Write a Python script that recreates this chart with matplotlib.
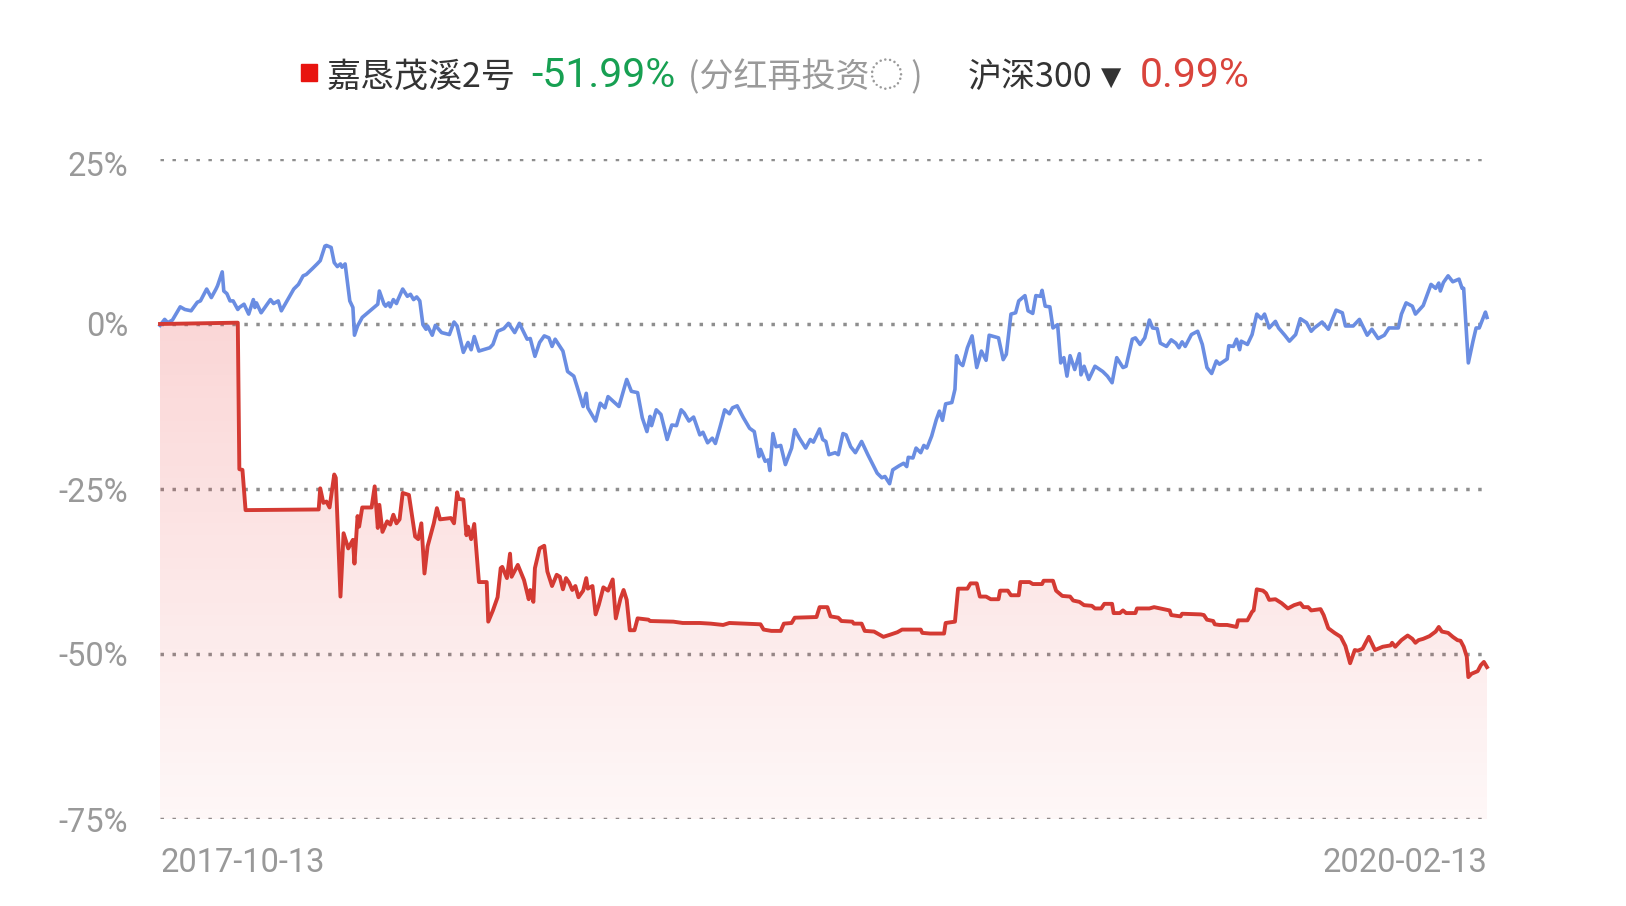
import numpy as np
import pandas as pd
import matplotlib
matplotlib.use('Agg')
import matplotlib.pyplot as plt
from matplotlib.patches import Rectangle
from matplotlib.transforms import ScaledTranslation

# Labels and texts
start_date = '2017-10-13'
end_date = '2020-02-13'
y_ticks = [25, 0, -25, -50, -75]
fund_name = '嘉恳茂溪2号'
fund_return = '-51.99%'
note = '(分红再投资◌ )'
index_name = '沪深300'
index_return = '0.99%'

# 沪深300 cumulative return [%] (day offset from start)
hs300_days = [0, 3, 5, 8, 13, 16, 20, 24, 26, 30, 33, 36, 37, 40, 41, 43, 45, 47, 50, 51,
              54, 57, 60, 61, 62, 65, 68, 71, 73, 76, 78, 86, 89, 92, 94, 98, 101, 103, 106, 107,
              110, 112, 114, 116, 117, 119, 122, 124, 125, 127, 130, 135, 140, 141, 144, 145, 147, 148, 150, 152,
              153, 156, 159, 161, 163, 165, 167, 169, 171, 172, 175, 177, 181, 186, 189, 191, 195, 198, 200, 202,
              205, 212, 214, 217, 221, 224, 228, 231, 236, 238, 241, 244, 247, 250, 252, 254, 259, 262, 266, 268,
              272, 274, 275, 280, 283, 286, 288, 295, 300, 303, 307, 310, 313, 315, 316, 319, 322, 326, 329, 332,
              335, 337, 340, 343, 347, 349, 352, 355, 357, 360, 363, 366, 368, 371, 375, 379, 382, 385, 386, 389,
              391, 392, 394, 396, 399, 402, 406, 408, 411, 415, 418, 420, 424, 426, 428, 430, 434, 436, 439, 441,
              444, 447, 451, 455, 461, 464, 466, 469, 471, 475, 478, 480, 481, 484, 486, 489, 491, 493, 496, 499,
              501, 503, 505, 509, 511, 512, 514, 516, 519, 522, 525, 528, 531, 533, 539, 542, 544, 547, 550, 552,
              556, 558, 561, 563, 566, 567, 569, 572, 574, 577, 579, 581, 583, 585, 588, 591, 592, 594, 597, 601,
              606, 609, 612, 615, 619, 621, 625, 627, 630, 633, 636, 638, 641, 643, 647, 650, 653, 655, 657, 659,
              663, 667, 670, 673, 676, 679, 681, 686, 687, 690, 692, 694, 695, 699, 702, 705, 708, 710, 713, 717,
              719, 723, 726, 730, 733, 737, 740, 742, 747, 751, 756, 760, 762, 767, 771, 776, 779, 783, 787, 790,
              796, 798, 801, 805, 807, 812, 817, 820, 822, 823, 825, 828, 831, 835, 837, 838, 841, 844, 846, 848,
              852, 853]
hs300_pct = [-0.2, 0.7, 0.2, 0.6, 2.6, 2.2, 2.0, 3.3, 3.5, 5.3, 4.0, 5.3, 5.8, 7.9, 5.0, 4.6, 3.5, 3.5, 2.2, 2.5,
             3.0, 1.5, 3.7, 2.5, 3.2, 1.7, 2.7, 3.7, 3.1, 3.5, 2.0, 5.3, 6.0, 7.3, 7.5, 8.4, 9.1, 9.6, 11.8, 11.9,
             11.6, 9.3, 8.7, 9.1, 8.6, 9.1, 3.5, 2.5, -1.7, -0.3, 1.0, 2.0, 3.0, 5.0, 3.0, 2.7, 3.2, 2.6, 3.7, 3.1,
             3.7, 5.3, 4.2, 4.5, 3.7, 4.1, 3.5, -0.1, -0.8, -0.3, -1.7, -0.2, -1.3, -1.6, 0.3, -0.3, -4.3, -2.8, -3.9, -1.9,
             -4.1, -3.6, -3.1, -1.1, -0.7, 0.1, -1.3, 0.1, -2.3, -2.2, -4.9, -2.8, -1.8, -2.1, -3.4, -2.3, -4.1, -7.2, -7.9, -9.4,
             -12.5, -10.5, -12.7, -14.7, -12.0, -12.7, -11.0, -12.5, -8.4, -10.2, -10.4, -14.2, -16.3, -14.0, -15.4, -13.0, -13.7, -17.5, -15.3, -15.4,
             -13.0, -13.5, -14.7, -14.1, -16.8, -16.4, -18.0, -17.3, -18.1, -15.6, -13.0, -13.6, -12.7, -12.4, -14.2, -15.8, -16.3, -20.1, -19.0, -20.8,
             -20.6, -22.2, -16.6, -18.6, -18.4, -21.3, -18.8, -16.0, -17.3, -18.8, -17.5, -17.9, -15.9, -17.5, -17.8, -19.8, -19.5, -19.8, -16.6, -16.8,
             -18.6, -19.5, -17.8, -19.8, -22.6, -23.3, -23.1, -24.2, -22.1, -21.5, -21.1, -21.6, -20.2, -20.3, -18.8, -19.5, -18.4, -18.8, -17.0, -14.5,
             -13.2, -14.6, -12.1, -11.9, -9.9, -4.8, -5.9, -6.3, -3.6, -1.8, -6.6, -4.1, -5.5, -1.7, -2.1, -5.4, -4.6, 1.5, 1.7, 3.5,
             4.3, 2.0, 1.6, 4.3, 4.2, 5.1, 2.7, 2.6, -0.6, -0.1, -5.9, -5.1, -7.9, -4.8, -6.9, -4.5, -7.7, -6.4, -8.4, -6.4,
             -7.2, -7.9, -8.9, -5.1, -6.6, -6.4, -2.3, -2.1, -3.1, -2.1, 0.6, -0.6, -0.7, -2.9, -3.4, -2.4, -2.9, -3.6, -2.7, -3.4,
             -1.6, -1.1, -3.1, -6.6, -7.5, -5.6, -6.1, -5.3, -3.3, -3.4, -2.3, -3.9, -2.6, -3.1, -1.6, 1.5, 0.8, 1.5, -0.6, 0.4,
             -0.6, -1.7, -2.6, -1.6, 0.8, 0.2, -1.1, -0.6, 0.3, -0.8, 2.1, 1.7, -0.3, -0.3, 0.7, -1.7, -0.8, -2.2, -1.7, -0.6,
             -0.6, 1.5, 3.2, 2.7, 1.5, 2.8, 6.0, 5.4, 6.2, 5.0, 6.3, 7.3, 6.4, 6.8, 5.4, 5.4, -5.9, -2.6, -0.6, -0.6,
             1.8, 0.99]

# 嘉恳茂溪2号 cumulative return [%] (dividends reinvested)
fund_days = [0, 50, 51, 53, 55, 102, 103, 105, 107, 109, 112, 113, 116, 118, 121, 124, 125, 127, 128, 130,
             136, 138, 140, 141, 143, 146, 148, 150, 152, 154, 156, 160, 164, 166, 168, 170, 172, 176, 178, 180,
             187, 189, 191, 192, 195, 197, 198, 200, 202, 205, 210, 211, 214, 217, 219, 220, 223, 225, 226, 230,
             234, 237, 238, 240, 241, 244, 247, 249, 252, 255, 257, 259, 261, 263, 265, 267, 269, 272, 274, 275,
             278, 280, 282, 285, 288, 291, 293, 296, 298, 300, 302, 305, 307, 314, 315, 330, 336, 347, 354, 362,
             366, 386, 388, 393, 399, 401, 406, 408, 422, 424, 429, 431, 436, 438, 445, 446, 451, 453, 459, 462,
             465, 469, 474, 477, 489, 490, 495, 504, 505, 511, 513, 519, 521, 525, 527, 531, 534, 539, 540, 545,
             547, 552, 553, 559, 561, 567, 568, 574, 576, 580, 585, 587, 591, 594, 599, 601, 605, 607, 612, 613,
             617, 619, 621, 627, 628, 636, 639, 643, 649, 650, 656, 657, 669, 671, 673, 677, 678, 681, 686, 692,
             693, 699, 702, 703, 705, 709, 711, 713, 717, 721, 725, 729, 733, 735, 738, 740, 746, 748, 751, 755,
             759, 762, 765, 768, 770, 773, 777, 781, 786, 791, 792, 794, 798, 802, 805, 807, 809, 812, 816, 820,
             822, 824, 828, 831, 834, 836, 838, 840, 841, 843, 847, 849, 851, 853]
fund_pct = [0.0, 0.2, -22.0, -22.1, -28.2, -28.1, -24.9, -27.1, -26.9, -27.8, -22.8, -23.3, -41.3, -31.7, -34.0, -32.7, -36.3, -29.1, -30.7, -27.8,
            -27.8, -24.6, -30.9, -27.4, -31.5, -29.9, -30.4, -28.9, -30.2, -29.6, -25.6, -25.9, -32.2, -32.6, -30.2, -37.8, -33.7, -30.2, -27.9, -29.6,
            -29.4, -30.2, -25.5, -26.5, -26.6, -32.0, -30.7, -32.6, -30.3, -39.1, -39.1, -45.1, -43.4, -41.4, -37.0, -36.8, -38.5, -34.8, -38.3, -36.5,
            -38.8, -41.7, -40.3, -42.1, -37.0, -34.0, -33.6, -37.5, -39.7, -38.0, -38.3, -40.2, -38.5, -39.2, -40.3, -39.7, -41.4, -40.4, -38.5, -40.1,
            -39.7, -44.0, -42.6, -39.9, -40.4, -38.7, -44.6, -41.6, -40.3, -41.8, -46.4, -46.4, -44.6, -44.8, -45.0, -45.1, -45.3, -45.3, -45.4, -45.6,
            -45.3, -45.5, -46.3, -46.5, -46.5, -45.4, -45.3, -44.5, -44.4, -42.9, -42.9, -44.3, -44.5, -45.0, -45.1, -45.4, -45.4, -46.5, -46.6, -47.0,
            -47.4, -47.1, -46.7, -46.3, -46.3, -46.8, -46.9, -46.9, -45.3, -45.1, -40.1, -40.1, -39.3, -39.3, -41.3, -41.3, -41.7, -41.7, -40.4, -40.4,
            -41.1, -41.1, -39.1, -39.1, -39.4, -39.4, -38.9, -38.9, -40.4, -41.2, -41.3, -41.9, -42.1, -42.6, -42.7, -43.1, -43.1, -42.4, -42.4, -43.8,
            -43.8, -43.4, -43.8, -43.8, -43.1, -43.1, -42.9, -43.1, -43.4, -44.1, -44.3, -43.9, -44.0, -44.1, -44.8, -45.0, -45.5, -45.6, -45.6, -45.9,
            -44.9, -44.9, -43.6, -43.4, -40.2, -40.4, -40.8, -41.8, -41.7, -42.3, -43.1, -42.6, -42.3, -42.9, -42.9, -43.4, -43.2, -44.1, -46.1, -46.8,
            -47.4, -48.8, -51.4, -49.4, -49.5, -49.2, -47.4, -49.4, -48.9, -48.7, -48.3, -48.9, -47.9, -47.2, -47.7, -48.3, -47.9, -47.7, -47.3, -46.6,
            -45.9, -46.6, -46.8, -47.4, -47.9, -48.0, -48.9, -50.4, -53.5, -53.0, -52.6, -51.7, -51.2, -51.99]

plt.rcParams['font.family'] = ['Roboto', 'Noto Sans CJK SC', 'DejaVu Sans']

W, H = 1626, 906
fig = plt.figure(figsize=(W / 100, H / 100), dpi=100)
ax = fig.add_axes([160 / W, 1 - 819 / H, 1327 / W, 660 / H])

span = (pd.Timestamp(end_date) - pd.Timestamp(start_date)).days
ax.set_xlim(0, span)
ax.set_ylim(-75, 25)
for s in ax.spines.values():
    s.set_visible(False)

# dotted grid
for t in y_ticks:
    ax.axhline(t, color='#8e8e8e', lw=2.5, dashes=(1, 2.45), zorder=0)

# gradient fill under the fund line
poly = ax.fill_between(fund_days, fund_pct, -75, facecolor='none', edgecolor='none')
rgba = np.zeros((256, 1, 4))
rgba[..., 0] = 0.92
rgba[..., 1] = 0.24
rgba[..., 2] = 0.24
rgba[..., 3] = np.linspace(0.21, 0.04, 256)[:, None]
im = ax.imshow(rgba, extent=[0, span, -75, max(fund_pct)], aspect='auto',
               origin='upper', zorder=1, interpolation='bilinear')
im.set_clip_path(poly.get_paths()[0], transform=ax.transData)

ax.plot(hs300_days, hs300_pct, color='#6a8de2', lw=2.6, zorder=3, clip_on=False,
        solid_joinstyle='round')
ax.plot(fund_days, fund_pct, color='#d43a33', lw=2.8, zorder=3, clip_on=False,
        solid_joinstyle='round')

ax.set_yticks(y_ticks, [f'{t}%' for t in y_ticks])
ax.set_xticks([0, span], [start_date, end_date])
ax.tick_params(length=0, labelsize=23.5, labelcolor='#999999')
ax.tick_params(axis='y', pad=23)
ax.tick_params(axis='x', pad=20)
xl = ax.get_xticklabels()
xl[0].set_ha('left')
xl[-1].set_ha('right')
yl = ax.get_yticklabels()
yl[0].set_transform(yl[0].get_transform() + ScaledTranslation(0, -4 / 100, fig.dpi_scale_trans))

# legend row
def fx(px):
    return px / W

base = 1 - 87 / H
fig.patches.append(Rectangle((fx(301), 1 - 81 / H), 16 / W, 17 / H,
                             transform=fig.transFigure, color='#e8140f'))
fig.text(fx(327), base, fund_name, fontsize=24.5, color='#333333', va='baseline',
         family=['Noto Sans CJK SC'])
fig.text(fx(531), base, fund_return, fontsize=29.5, color='#17a052', va='baseline')
fig.text(fx(688), base, note, fontsize=24.5, color='#9a9a9a', va='baseline',
         family=['Noto Sans CJK SC', 'DejaVu Sans'])
fig.text(fx(968), base, index_name, fontsize=24.5, color='#333333', va='baseline',
         family=['Noto Sans CJK SC'])
fig.text(fx(1101), base + 2 / H, '▼', fontsize=19, color='#333333', va='baseline',
         family=['DejaVu Sans'])
fig.text(fx(1140), base, index_return, fontsize=29.5, color='#d9443c', va='baseline')

fig.savefig('out.png', dpi=100)
